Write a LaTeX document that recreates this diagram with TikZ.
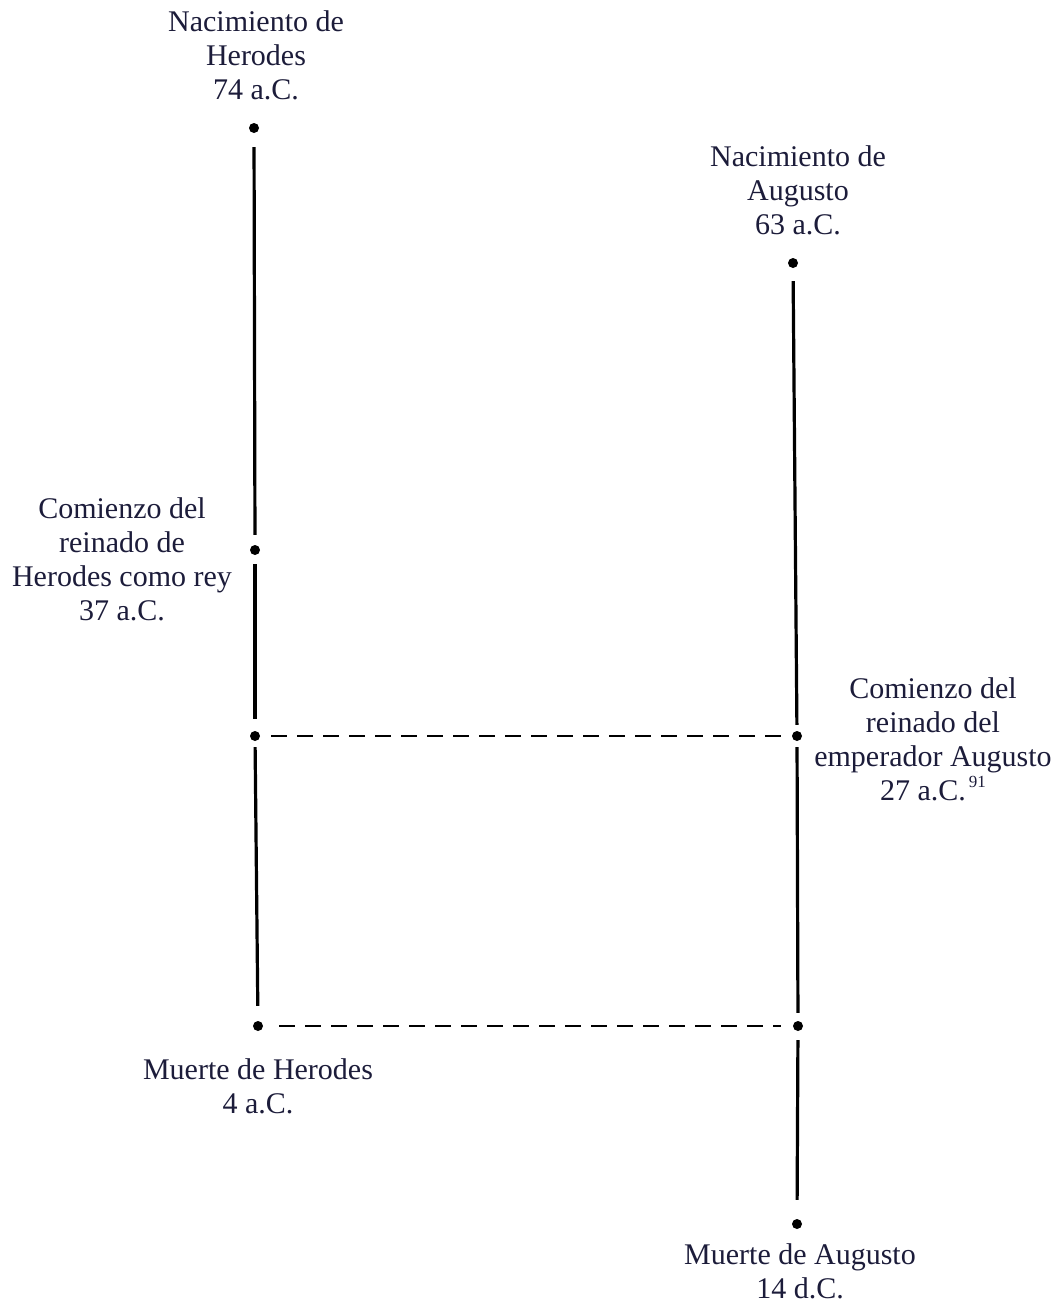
\documentclass[tikz,border=0pt]{standalone}
\usepackage{fontspec}
\setmainfont{Liberation Serif}
\definecolor{txt}{RGB}{28,28,58}
\newcommand{\supnum}[1]{\raisebox{0.42em}{\fontsize{17}{17}\selectfont #1}}
\begin{document}
\begin{tikzpicture}[x=1pt,y=-1pt,
  dot/.style={circle,fill=black,inner sep=0pt,minimum size=10pt},
  lbl/.style={align=center,text=txt,inner sep=0pt,font=\fontsize{30}{34}\selectfont},
  solidline/.style={line width=3.2pt,black},
  dashline/.style={line width=2.4pt,black,dash pattern=on 16pt off 10pt}]
\useasboundingbox (0,0) rectangle (1057,1307);
% dots left (Herodes)
\node[dot] (h1) at (254,128) {};
\node[dot] (h2) at (255,550) {};
\node[dot] (h3) at (255,736) {};
\node[dot] (h4) at (258,1026) {};
% dots right (Augusto)
\node[dot] (a1) at (793,263) {};
\node[dot] (a2) at (797,736) {};
\node[dot] (a3) at (798,1026) {};
\node[dot] (a4) at (797,1224) {};
% labels
\node[lbl] (th1) at (256,55) {Nacimiento de\\Herodes\\74 a.C.};
\node[lbl] (th2) at (122,559) {Comienzo del\\reinado de\\Herodes como rey\\37 a.C.};
\node[lbl] (th4) at (258,1086) {Muerte de Herodes\\4 a.C.};
\node[lbl] (ta1) at (798,190) {Nacimiento de\\Augusto\\63 a.C.};
\node[lbl] (ta2) at (933,739) {Comienzo del\\reinado del\\emperador Augusto\\27 a.C.\kern3pt\supnum{91}};
\node[lbl] (ta4) at (800,1271) {Muerte de Augusto\\14 d.C.};
% left timeline
\draw[solidline,shorten <=14pt,shorten >=10pt] (h1) -- (h2);
\draw[solidline,shorten <=9pt,shorten >=12pt] (h2) -- (h3);
\draw[solidline,shorten <=6pt,shorten >=15pt] (h3) -- (h4);
% right timeline
\draw[solidline,shorten <=13pt,shorten >=6pt] (a1) -- (a2);
\draw[solidline,shorten <=6pt,shorten >=8pt] (a2) -- (a3);
\draw[solidline,shorten <=9pt,shorten >=19pt] (a3) -- (a4);
% dashed links
\draw[dashline,shorten <=11pt,shorten >=11pt] (h3) -- (a2);
\draw[dashline,shorten <=16pt,shorten >=12pt] (h4) -- (a3);
\end{tikzpicture}
\end{document}
